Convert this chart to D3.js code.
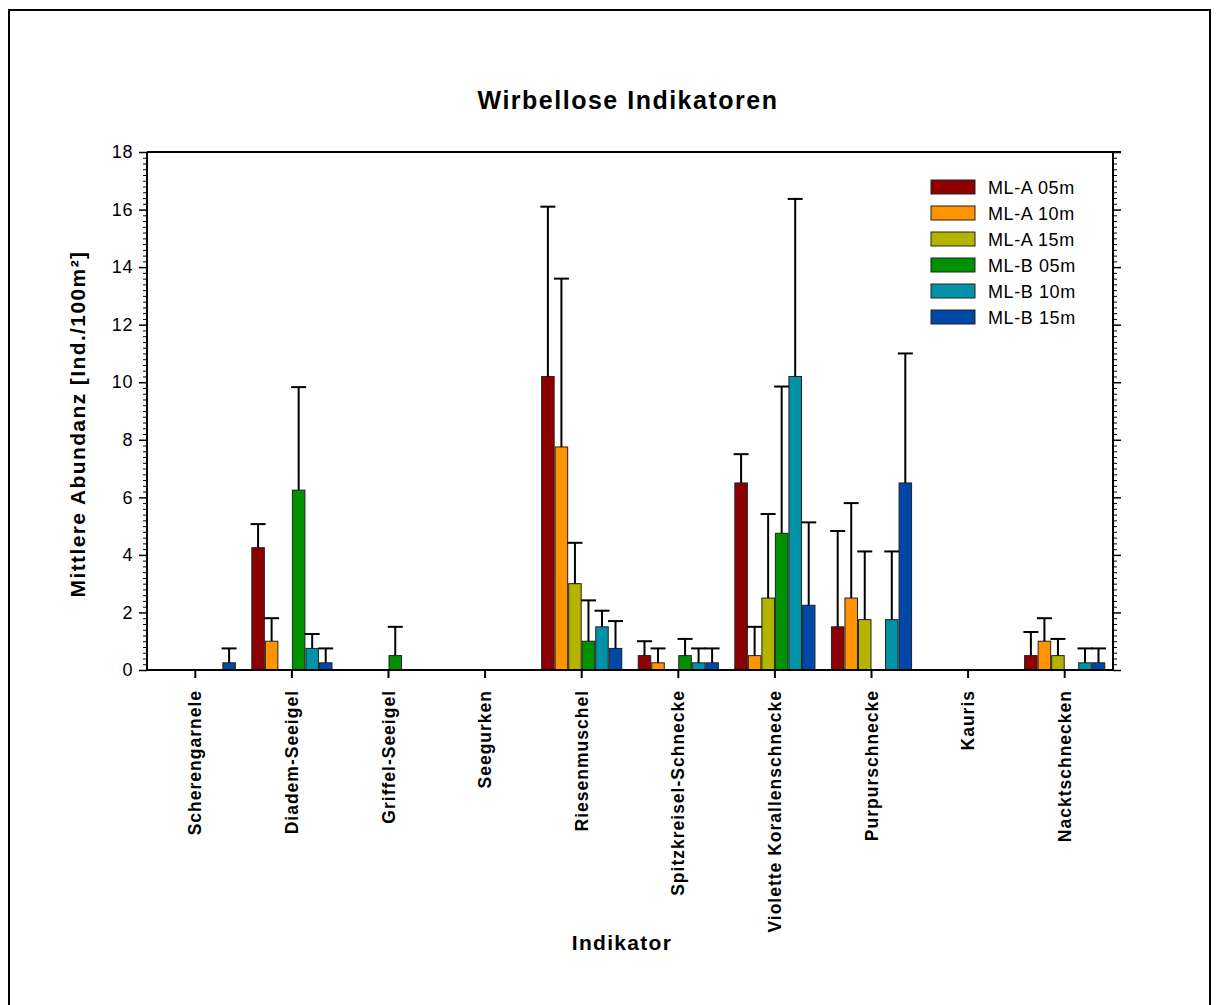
<!DOCTYPE html>
<html><head><meta charset="utf-8">
<script src="https://cdn.jsdelivr.net/npm/d3@7"></script>
<style>body{margin:0;background:#fff}svg{display:block;font-family:"Liberation Sans",Arial,sans-serif}</style>
</head><body>
<svg id="c" width="1219" height="1005"></svg>
<script>
const categories = ["Scherengarnele","Diadem-Seeigel","Griffel-Seeigel","Seegurken","Riesenmuschel","Spitzkreisel-Schnecke","Violette Korallenschnecke","Purpurschnecke","Kauris","Nacktschnecken"];
const seriesNames = ["ML-A 05m","ML-A 10m","ML-A 15m","ML-B 05m","ML-B 10m","ML-B 15m"];
const seriesColors = ["#8c0000","#ff9300","#b4b400","#009100","#0093a8","#0048a8"];
// mean values per series (order of categories)
const mlA05 = [0, 4.25, 0, 0, 10.2, 0.5, 6.5, 1.5, 0, 0.5];
const mlA10 = [0, 1.0, 0, 0, 7.75, 0.25, 0.5, 2.5, 0, 1.0];
const mlA15 = [0, 0, 0, 0, 3.0, 0, 2.5, 1.75, 0, 0.5];
const mlB05 = [0, 6.25, 0.5, 0, 1.0, 0.5, 4.75, 0, 0, 0];
const mlB10 = [0, 0.75, 0, 0, 1.5, 0.25, 10.2, 1.75, 0, 0.25];
const mlB15 = [0.25, 0.25, 0, 0, 0.75, 0.25, 2.25, 6.5, 0, 0.25];
// upper end of error bars (mean + SD); null = none
const errA05 = [null, 5.07, null, null, 16.1, 1.0, 7.5, 4.83, null, 1.32];
const errA10 = [null, 1.8, null, null, 13.6, 0.75, 1.5, 5.8, null, 1.8];
const errA15 = [null, null, null, null, 4.42, null, 5.42, 4.12, null, 1.08];
const errB05 = [null, 9.83, 1.5, null, 2.42, 1.08, 9.85, null, null, null];
const errB10 = [null, 1.25, null, null, 2.06, 0.75, 16.37, 4.12, null, 0.75];
const errB15 = [0.75, 0.75, null, null, 1.7, 0.75, 5.13, 11.0, null, 0.75];
const yTicks = [0,2,4,6,8,10,12,14,16,18];

const values = [mlA05, mlA10, mlA15, mlB05, mlB10, mlB15];
const errs = [errA05, errA10, errA15, errB05, errB10, errB15];

const FONT = '"Liberation Sans",Arial,sans-serif';
const svg = d3.select("#c");
const L = 147, R = 1113, T = 152, B = 670;

// outer frame
svg.append("rect").attr("x",9).attr("y",10).attr("width",1201).attr("height",1010)
  .attr("fill","none").attr("stroke","#000").attr("stroke-width",2);

const x0 = d3.scaleBand().domain(categories).range([L, R]).paddingInner(0.16).paddingOuter(0.08);
const x1 = d3.scaleBand().domain(d3.range(6)).range([0, x0.bandwidth()]).padding(0);
const y = d3.scaleLinear().domain([0, 18]).range([B, T]);

// bars
const g = svg.append("g");
values.forEach((vals, s) => {
  vals.forEach((v, i) => {
    if (v <= 0) return;
    const xb = x0(categories[i]) + x1(s);
    g.append("rect").attr("x", xb + 0.5).attr("y", y(v)).attr("width", x1.bandwidth() - 1)
      .attr("height", y(0) - y(v)).attr("fill", seriesColors[s]).attr("stroke", "#222").attr("stroke-width", 1);
  });
});
// error bars
errs.forEach((es, s) => {
  es.forEach((e, i) => {
    if (e == null) return;
    const cx = x0(categories[i]) + x1(s) + x1.bandwidth() / 2;
    const v = values[s][i];
    g.append("line").attr("x1", cx).attr("x2", cx).attr("y1", y(v)).attr("y2", y(e))
      .attr("stroke", "#000").attr("stroke-width", 2);
    g.append("line").attr("x1", cx - 7.5).attr("x2", cx + 7.5).attr("y1", y(e)).attr("y2", y(e))
      .attr("stroke", "#000").attr("stroke-width", 2);
  });
});

// minor ticks
const minor = d3.range(0, 18.001, 0.2).filter(v => Math.abs(v/2 - Math.round(v/2)) > 1e-6);
const yLeft = svg.append("g").attr("transform", `translate(${L},0)`)
  .call(d3.axisLeft(y).tickValues(yTicks).tickSize(8).tickPadding(6).tickFormat(d3.format("d")));
yLeft.select(".domain").attr("stroke-width", 2).attr("d", `M0,${B}V${T}`);
yLeft.selectAll(".tick line").attr("stroke-width", 1.5);
yLeft.selectAll(".tick text").attr("font-size", 18).attr("letter-spacing", 0.6).attr("font-family", FONT).attr("fill", "#000");
svg.append("g").attr("transform", `translate(${L},0)`)
  .call(d3.axisLeft(y).tickValues(minor).tickSize(4).tickFormat(""))
  .call(a => a.select(".domain").remove());

const yRight = svg.append("g").attr("transform", `translate(${R},0)`)
  .call(d3.axisRight(y).tickValues(yTicks).tickSize(8).tickFormat(""));
yRight.select(".domain").attr("stroke-width", 2).attr("d", `M0,${B}V${T}`);
yRight.selectAll(".tick line").attr("stroke-width", 1.5);
svg.append("g").attr("transform", `translate(${R},0)`)
  .call(d3.axisRight(y).tickValues(minor).tickSize(4).tickFormat(""))
  .call(a => a.select(".domain").remove());

// top line
svg.append("line").attr("x1", L).attr("x2", R + 8).attr("y1", T).attr("y2", T).attr("stroke", "#000").attr("stroke-width", 2);

// bottom axis
const xAx = svg.append("g").attr("transform", `translate(0,${B})`)
  .call(d3.axisBottom(x0).tickSize(8).tickPadding(0));
xAx.select(".domain").attr("stroke-width", 2).attr("d", `M${L},0H${R}`);
xAx.selectAll(".tick line").attr("stroke-width", 2);
xAx.selectAll(".tick text").attr("font-size", 17.5).attr("font-weight", "bold").attr("letter-spacing", 1)
  .attr("font-family", FONT).attr("fill", "#000")
  .attr("text-anchor", "end").attr("dy", "0.35em").attr("transform", "translate(0,20) rotate(-90)")
  .attr("x", 0).attr("y", 0);

// titles
svg.append("text").attr("x", 628).attr("y", 109).attr("text-anchor", "middle")
  .attr("font-size", 25).attr("letter-spacing", 1.5).attr("font-weight", "bold").text("Wirbellose Indikatoren");
svg.append("text").attr("x", 622).attr("y", 950).attr("text-anchor", "middle")
  .attr("font-size", 21).attr("letter-spacing", 1.3).attr("font-weight", "bold").text("Indikator");
svg.append("text").attr("transform", "translate(85,424) rotate(-90)").attr("text-anchor", "middle")
  .attr("font-size", 21).attr("letter-spacing", 1.4).attr("font-weight", "bold").text("Mittlere Abundanz [Ind./100m²]");

// legend
const lg = svg.append("g").attr("transform", "translate(931,180)");
seriesNames.forEach((n, i) => {
  lg.append("rect").attr("x", 0).attr("y", i * 26).attr("width", 44).attr("height", 14)
    .attr("fill", seriesColors[i]).attr("stroke", "#222").attr("stroke-width", 1);
  lg.append("text").attr("x", 57).attr("y", i * 26 + 14).attr("font-size", 18).attr("letter-spacing", 0.6).text(n);
});
</script>
</body></html>
